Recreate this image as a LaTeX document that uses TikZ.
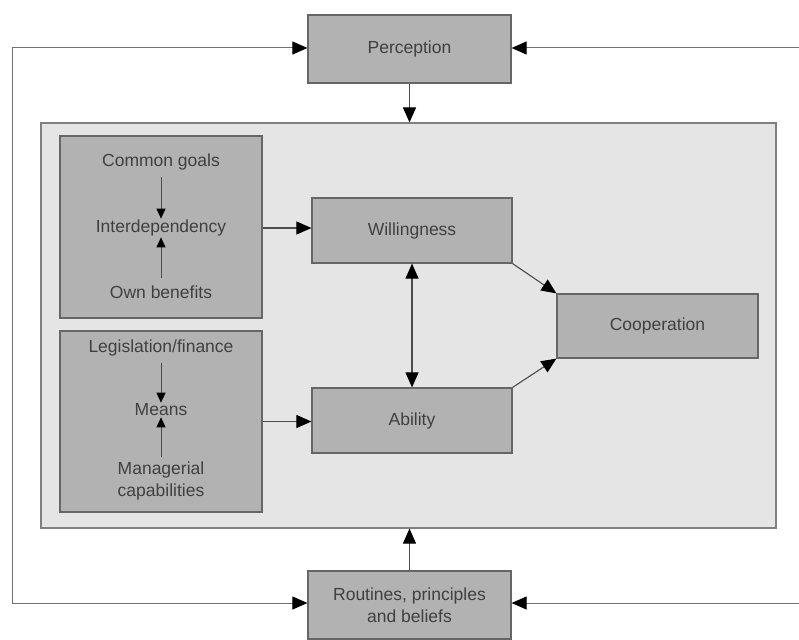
\documentclass[tikz,border=0pt]{standalone}
\usepackage{fontspec}
\setmainfont{Liberation Sans}
\usetikzlibrary{arrows.meta}
\tikzset{
  box/.style={draw=black!60, line width=1.2pt, fill=black!30, inner sep=0pt, text=black!75, align=center},
  txt/.style={inner sep=1pt, text=black!75, align=center},
  bigtip/.style={Triangle[length=15pt,width=13pt,black]},
  bigarr/.style={line width=1.1pt, black!70, -{Triangle[length=15pt,width=13pt,black]}},
  smallarr/.style={line width=1pt, black!70, -{Triangle[length=10pt,width=9pt,black]}},
  loopline/.style={line width=1pt, black!55, -{Triangle[length=15pt,width=13pt,black]}}
}
\begin{document}
\begin{tikzpicture}[x=1pt, y=-1pt, every node/.style={font=\fontsize{17.5}{22}\selectfont}]
\useasboundingbox (0,0) rectangle (799,639);
\node[box, draw=black!50, fill=black!10, minimum width=735pt, minimum height=405pt] (frame) at (408.5,325.5) {};
\node[box, minimum width=203pt, minimum height=68pt] (perc) at (409.5,49) {Perception};
\node[box, minimum width=203pt, minimum height=68pt] (rout) at (409.5,605) {Routines, principles\\and beliefs};
\node[box, minimum width=202pt, minimum height=182pt] (motive) at (161,227) {};
\node[box, minimum width=202pt, minimum height=181pt] (means) at (161,421.5) {};
\node[box, minimum width=200pt, minimum height=65pt] (will) at (412,230.5) {Willingness};
\node[box, minimum width=200pt, minimum height=65pt] (abil) at (412,420.5) {Ability};
\node[box, minimum width=201pt, minimum height=64pt] (coop) at (657.5,326) {Cooperation};
\node[txt] (goals) at (161,162) {Common goals};
\node[txt] (interdep) at (161,228) {Interdependency};
\node[txt] (benefits) at (161,292) {Own benefits};
\node[txt] (legis) at (161,348) {Legislation/finance};
\node[txt] (meansl) at (161,410) {Means};
\node[txt] (manag) at (161,481) {Managerial\\capabilities};
\coordinate (tl) at (12,48);
\coordinate (bl) at (12,603);
\coordinate (tr) at (799,48);
\coordinate (br) at (799,603);
\draw[loopline] (bl) -- (tl) -- (perc.west |- tl);
\draw[loopline] (bl) -- (rout.west |- bl);
\draw[loopline] (tr) -- (perc.east |- tr);
\draw[loopline] (br) -- (rout.east |- br);
\draw[bigarr] (perc) -- (frame.north -| perc);
\draw[bigarr] (rout) -- (frame.south -| rout);
\draw[smallarr, shorten <=6pt] (goals) -- (interdep);
\draw[smallarr, shorten <=6pt] (benefits) -- (interdep);
\draw[smallarr, shorten <=6pt] (legis) -- (meansl);
\draw[smallarr, shorten <=4pt] (manag) -- (meansl);
\draw[bigarr] (motive.east |- interdep) -- (will.west |- interdep);
\draw[bigarr] (means.east) -- (abil.west |- means.east);
\draw[line width=1.1pt, black!70, {Triangle[length=15pt,width=13pt,black]}-{Triangle[length=15pt,width=13pt,black]}] (will) -- (abil);
\draw[bigarr] (will.south east) -- (coop.north west);
\draw[bigarr] (abil.north east) -- (coop.south west);
\end{tikzpicture}
\end{document}
